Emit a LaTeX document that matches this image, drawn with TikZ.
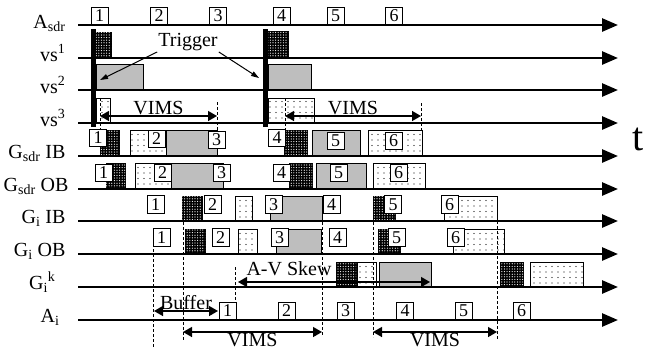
\documentclass[tikz,border=0pt]{standalone}
\usepackage{fontspec}
\setmainfont{Liberation Serif}
\usetikzlibrary{arrows.meta,patterns}
\definecolor{blockgray}{RGB}{190,190,190}

\pgfdeclarepatternformonly{finedots}{\pgfqpoint{-1pt}{-1pt}}{\pgfqpoint{1pt}{1pt}}{\pgfqpoint{2.6pt}{2.6pt}}{%
  \pgfpathcircle{\pgfqpoint{0pt}{0pt}}{0.6pt}\pgfusepath{fill}}
\pgfdeclarepatternformonly{sparsedots}{\pgfqpoint{-1pt}{-1pt}}{\pgfqpoint{1pt}{1pt}}{\pgfqpoint{6pt}{5.5pt}}{%
  \pgfpathcircle{\pgfqpoint{0pt}{0pt}}{0.65pt}\pgfusepath{fill}}

\tikzset{
  axis/.style={line width=2.7pt, -{Triangle[length=16pt,width=13pt]}},
  numbox/.style={draw, fill=white, line width=0.7pt, minimum width=17pt, minimum height=17.5pt, inner sep=0pt, font=\fontsize{18}{18}\selectfont},
  darkblk/.style={draw, line width=0.6pt, fill=black, postaction={pattern=finedots, pattern color=white}},
  lightblk/.style={draw, line width=0.6pt, fill=white, postaction={pattern=sparsedots}},
  grayblk/.style={draw, line width=0.6pt, fill=blockgray},
  span/.style={line width=1.4pt, {Triangle[length=9pt,width=10pt]}-{Triangle[length=9pt,width=10pt]}},
  guide/.style={line width=0.6pt, dash pattern=on 3pt off 2pt},
  trigarrow/.style={line width=1pt, -{Triangle[length=8pt,width=5pt]}},
  rowlabel/.style={anchor=base east, font=\fontsize{20}{20}\selectfont},
  note/.style={font=\fontsize{20}{20}\selectfont, inner sep=1pt},
}

\begin{document}
\begin{tikzpicture}[x=1pt, y=-1pt]
    \useasboundingbox (0,0) rectangle (656,360);

    % Source rows vs1..vs3
    \draw[darkblk] (96,32) rectangle (111,58);
    \draw[darkblk] (268,31) rectangle (288,58);
    \draw[grayblk] (96,64) rectangle (143,90);
    \draw[grayblk] (268,64) rectangle (311,90);
    \draw[lightblk] (96,98) rectangle (110,123);
    \draw[lightblk] (268,98) rectangle (314,123);

    % G_sdr IB
    \draw[darkblk] (100,130) rectangle (119,156);
    \draw[lightblk] (130,130) rectangle (166,156);
    \draw[grayblk] (166,130) rectangle (217,156);
    \draw[darkblk] (284,130) rectangle (307,156);
    \draw[grayblk] (312,130) rectangle (360,156);
    \draw[lightblk] (368,130) rectangle (422,156);

    % G_sdr OB
    \draw[darkblk] (106,163) rectangle (125,189);
    \draw[lightblk] (135,163) rectangle (171,189);
    \draw[grayblk] (171,163) rectangle (223,189);
    \draw[darkblk] (289,163) rectangle (312,189);
    \draw[grayblk] (316,163) rectangle (366,189);
    \draw[lightblk] (373,163) rectangle (425,189);

    % G_i IB
    \draw[darkblk] (182,196) rectangle (202,221);
    \draw[lightblk] (235,196) rectangle (252,221);
    \draw[grayblk] (270,196) rectangle (322,221);
    \draw[darkblk] (373,196) rectangle (395,221);
    \draw[lightblk] (444,196) rectangle (497,221);

    % G_i OB
    \draw[darkblk] (185,229) rectangle (205,254);
    \draw[lightblk] (238,229) rectangle (257,254);
    \draw[grayblk] (276,229) rectangle (321,254);
    \draw[darkblk] (378,229) rectangle (400,254);
    \draw[lightblk] (453,229) rectangle (504,254);

    % G_i^k
    \draw[darkblk] (336,262) rectangle (356,287);
    \draw[lightblk] (357,262) rectangle (376,287);
    \draw[grayblk] (379,262) rectangle (431,287);
    \draw[darkblk] (500,262) rectangle (523,287);
    \draw[lightblk] (530,262) rectangle (583,287);

    % dashed guides
    \draw[guide] (100,98) -- (100,131);
    \draw[guide] (217,102) -- (217,131);
    \draw[guide] (285,98) -- (285,131);
    \draw[guide] (421,103) -- (421,131);
    \draw[guide] (153,229) -- (153,348);
    \draw[guide] (183,222) -- (183,340);
    \draw[guide] (235,267) -- (235,300);
    \draw[guide] (322,222) -- (322,335);
    \draw[guide] (373,222) -- (373,337);
    \draw[guide] (497,221) -- (497,340);

    % time axes
    \foreach \y in {25,58,90,123,156,189,221,254,287,320}
        \draw[axis] (78,\y) -- (618,\y);
    \node[font=\fontsize{40}{40}\selectfont, inner sep=0pt] (taxis) at (638,139) {t};

    % trigger bars
    \fill (90.5,29) rectangle (95.5,127);
    \fill (263,29) rectangle (268,127);

    % row labels
    \node[rowlabel] (lasdr) at (69,28) {A\textsubscript{sdr}};
    \node[rowlabel] (lvs1) at (69,61) {vs\textsuperscript{1}};
    \node[rowlabel] (lvs2) at (69,93) {vs\textsuperscript{2}};
    \node[rowlabel] (lvs3) at (69,126) {vs\textsuperscript{3}};
    \node[rowlabel] (lsdrib) at (69,158) {G\textsubscript{sdr} IB};
    \node[rowlabel] (lsdrob) at (72,191) {G\textsubscript{sdr} OB};
    \node[rowlabel] (lgib) at (69,223) {G\textsubscript{i} IB};
    \node[rowlabel] (lgob) at (69,256) {G\textsubscript{i} OB};
    \node[rowlabel] (lgk) at (59,289) {G\textsubscript{i}\textsuperscript{k}};
    \node[rowlabel] (lai) at (63,322) {A\textsubscript{i}};

    % frame numbers
    \foreach \n/\x in {1/99.5,2/159,3/218,4/281.5,5/335.5,6/394}
        \node[numbox, anchor=south] (top\n) at (\x,25) {\n};
    \foreach \n/\x/\y in {1/98/138,2/156.5/139,3/216.5/140,4/277/138,5/335.5/141,6/393.5/141}
        \node[numbox] (sib\n) at (\x,\y) {\n};
    \foreach \n/\x in {1/103.5,2/162.5,3/221.5,4/281.5,5/338.5,6/398.5}
        \node[numbox] (sob\n) at (\x,173) {\n};
    \foreach \n/\x in {1/155.5,2/212.5,3/273.5,4/331.5,5/393,6/449.5}
        \node[numbox] (gib\n) at (\x,204.5) {\n};
    \foreach \n/\x in {1/161.5,2/220.5,3/279.5,4/337.5,5/396.5,6/455.5}
        \node[numbox] (gob\n) at (\x,237.5) {\n};
    \foreach \n/\x in {1/227.5,2/286.5,3/345.5,4/405,5/463.5,6/521.5}
        \node[numbox, anchor=south] (ai\n) at (\x,320) {\n};

    % trigger
    \node[note] (trig) at (188,42) {Trigger};
    \coordinate (trigl) at (100,80);
    \coordinate (trigr) at (259,78);
    \draw[trigarrow] (trig.south west) -- (trigl);
    \draw[trigarrow] (trig.south east) -- (trigr);

    % spans
    \coordinate (va1) at (100,116);
    \coordinate (vb1) at (217,116);
    \draw[span] (va1) -- node[note, above] (vims1) {VIMS} (vb1);
    \coordinate (va2) at (285,116);
    \coordinate (vb2) at (421,116);
    \draw[span] (va2) -- node[note, above] (vims2) {VIMS} (vb2);
    \coordinate (ska) at (238,282);
    \coordinate (skb) at (430,282);
    \draw[span] (ska) -- (skb);
    \node[note] (skew) at (289,269) {A-V Skew};
    \coordinate (bfa) at (154,311);
    \coordinate (bfb) at (218,311);
    \draw[span] (bfa) -- node[note, above] (buffer) {Buffer} (bfb);
    \coordinate (va3) at (183,332);
    \coordinate (vb3) at (322,332);
    \draw[span] (va3) -- node[note, below] (vims3) {VIMS} (vb3);
    \coordinate (va4) at (373,332);
    \coordinate (vb4) at (497,332);
    \draw[span] (va4) -- node[note, below] (vims4) {VIMS} (vb4);
\end{tikzpicture}
\end{document}
